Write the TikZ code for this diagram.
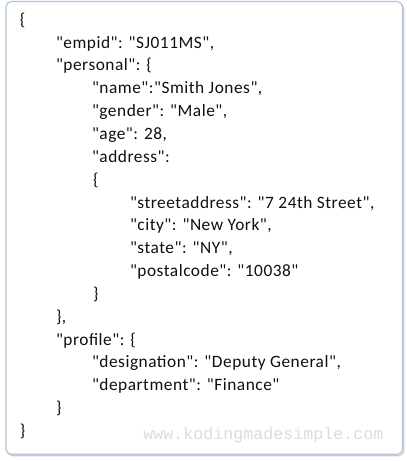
\documentclass[tikz,border=0pt]{standalone}
\usepackage{fontspec}
\newfontfamily\jsonfont{Carlito}[LetterSpace=3]
\newfontfamily\wmfont{Liberation Mono}
\definecolor{boxline}{HTML}{B3C5DB}
\definecolor{boxshadow}{HTML}{C8CCD2}
\definecolor{wmgray}{HTML}{DCDCDC}
\definecolor{txt}{HTML}{101010}
\begin{document}
\begin{tikzpicture}[x=0.75pt,y=-0.75pt,
  jline/.style={anchor=base west,inner sep=0pt,outer sep=0pt,font=\jsonfont\fontsize{13pt}{15pt}\selectfont,text=txt},
  wm/.style={anchor=base west,inner sep=0pt,font=\wmfont\fontsize{12.5pt}{14pt}\selectfont,text=wmgray}]
\useasboundingbox (0,0) rectangle (407,461);
\fill[white] (0,0) rectangle (407,461);
% shadow and box
\draw[boxshadow,line width=0.9pt,rounded corners=4] (7.5,3.5) rectangle (403.8,455.8);
\draw[boxline,fill=white,line width=0.9pt,rounded corners=4] (6,1.5) rectangle (402.5,454.3);
\def\bl#1{25.2+22.85*#1}
\node[jline] (l0) at (20,{\bl{0}}) {\{};
\node[jline] (l1) at (56,{\bl{1}}) {"empid": "SJ011MS",};
\node[jline] (l2) at (56,{\bl{2}}) {"personal": \{};
\node[jline] (l3) at (92,{\bl{3}}) {"name":"Smith Jones",};
\node[jline] (l4) at (92,{\bl{4}}) {"gender": "Male",};
\node[jline] (l5) at (92,{\bl{5}}) {"age": 28,};
\node[jline] (l6) at (92,{\bl{6}}) {"address":};
\node[jline] (l7) at (93,{\bl{7}}) {\{};
\node[jline] (l8) at (130,{\bl{8}}) {"streetaddress": "7 24th Street",};
\node[jline] (l9) at (130,{\bl{9}}) {"city": "New York",};
\node[jline] (l10) at (130,{\bl{10}}) {"state": "NY",};
\node[jline] (l11) at (130,{\bl{11}}) {"postalcode": "10038"};
\node[jline] (l12) at (93,{\bl{12}}) {\}};
\node[jline] (l13) at (56,{\bl{13}}) {\},};
\node[jline] (l14) at (56,{\bl{14}}) {"profile": \{};
\node[jline] (l15) at (92,{\bl{15}}) {"designation": "Deputy General",};
\node[jline] (l16) at (92,{\bl{16}}) {"department": "Finance"};
\node[jline] (l17) at (56,{\bl{17}}) {\}};
\node[jline] (l18) at (20,{\bl{18}}) {\}};
\node[wm] (wm) at (143,439) {www.kodingmadesimple.com};
\end{tikzpicture}
\end{document}
